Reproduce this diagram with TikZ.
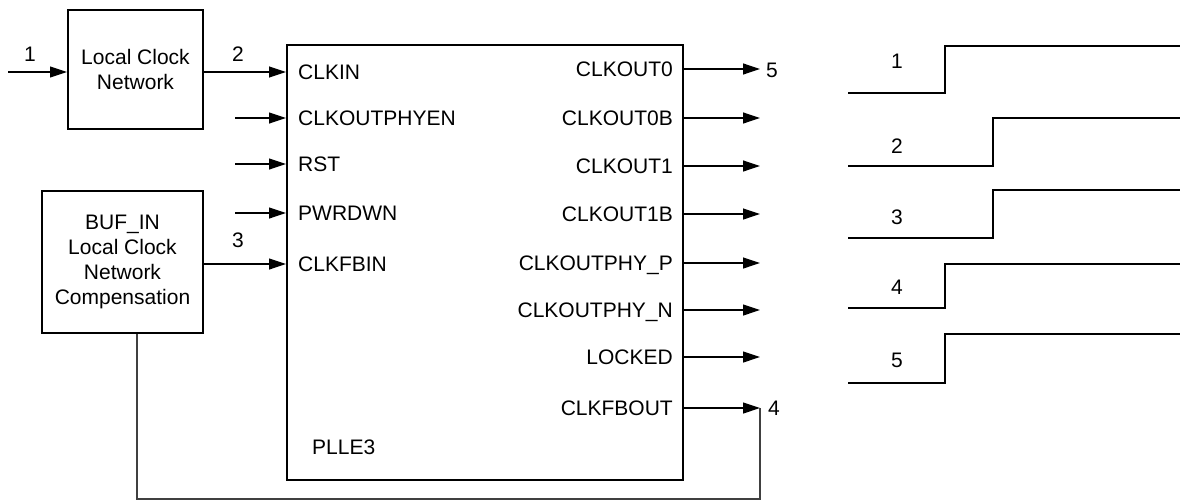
\documentclass[tikz,border=0pt]{standalone}
\usepackage{fontspec}
\setmainfont{Liberation Sans}
\usetikzlibrary{arrows.meta}
\begin{document}
\begin{tikzpicture}[x=1pt, y=-1pt,
    every node/.style={font=\fontsize{21}{25}\selectfont},
    blk/.style={draw, line width=2pt, align=center, inner sep=0pt},
    pin/.style={inner sep=0pt, text height=15pt, text depth=0pt},
    sig/.style={line width=1.2pt, -{Triangle[length=17pt,width=11pt]}},
    fbline/.style={line width=1.2pt, black!75},
    wave/.style={line width=2.5pt, line join=miter}]
    \useasboundingbox (0,0) rectangle (1180,503);
    % blocks
    \node[blk, minimum width=135pt, minimum height=119pt] (lcn) at (135.5,69.5) {Local Clock\\Network};
    \node[blk, minimum width=161pt, minimum height=142pt] (buf) at (122.5,262) {BUF\_IN\\Local Clock\\Network\\Compensation};
    \node[blk, minimum width=396pt, minimum height=435pt] (pll) at (485,262.5) {};
    \node[pin, anchor=west] (name) at (312,447) {PLLE3};
    % inputs
    \foreach \txt/\yy [count=\k] in {CLKIN/72, CLKOUTPHYEN/118, RST/164, PWRDWN/213, CLKFBIN/264}{
        \node[pin, anchor=west] (l\k) at (298,\yy) {\txt};
    }
    \foreach \k/\yy in {2/118, 3/164, 4/213}{
        \coordinate (ls\k) at (235,\yy);
        \draw[sig] (ls\k) -- (pll.west |- l\k);
    }
    \coordinate (in) at (8,72);
    \draw[sig] (in) -- (lcn.west |- in);
    \draw[sig] (lcn.east |- l1) -- (pll.west |- l1);
    \draw[sig] (buf.east |- l5) -- (pll.west |- l5);
    % outputs
    \foreach \txt/\yy [count=\k] in {CLKOUT0/69, CLKOUT0B/118, CLKOUT1/166, CLKOUT1B/214,
        CLKOUTPHY\_P/263, CLKOUTPHY\_N/310, LOCKED/357, CLKFBOUT/408}{
        \node[pin, anchor=east] (r\k) at (673,\yy) {\txt};
        \coordinate (re\k) at (760,\yy);
        \draw[sig] (pll.east |- r\k) -- (re\k);
    }
    % feedback
    \coordinate (loop) at (137,499);
    \draw[fbline] (buf.south -| loop) -- (loop) -| (re8);
    % numbers
    \node[pin] (n1) at (30,54) {1};
    \node[pin] (n2) at (238,54) {2};
    \node[pin] (n3) at (238,240) {3};
    \node[pin] (n5) at (772,70) {5};
    \node[pin] (n4) at (774,408) {4};
    % waveforms
    \foreach \n/\lo/\hi/\sx/\ty in {1/93/46/945/61, 2/166/118/993/146, 3/238/190/993/217,
        4/308/264/945/287, 5/383/334/945/360}{
        \draw[wave] (848,\lo) -- (\sx,\lo) -- (\sx,\hi) -- (1182,\hi);
        \node[pin] (w\n) at (897,\ty) {\n};
    }
\end{tikzpicture}
\end{document}
